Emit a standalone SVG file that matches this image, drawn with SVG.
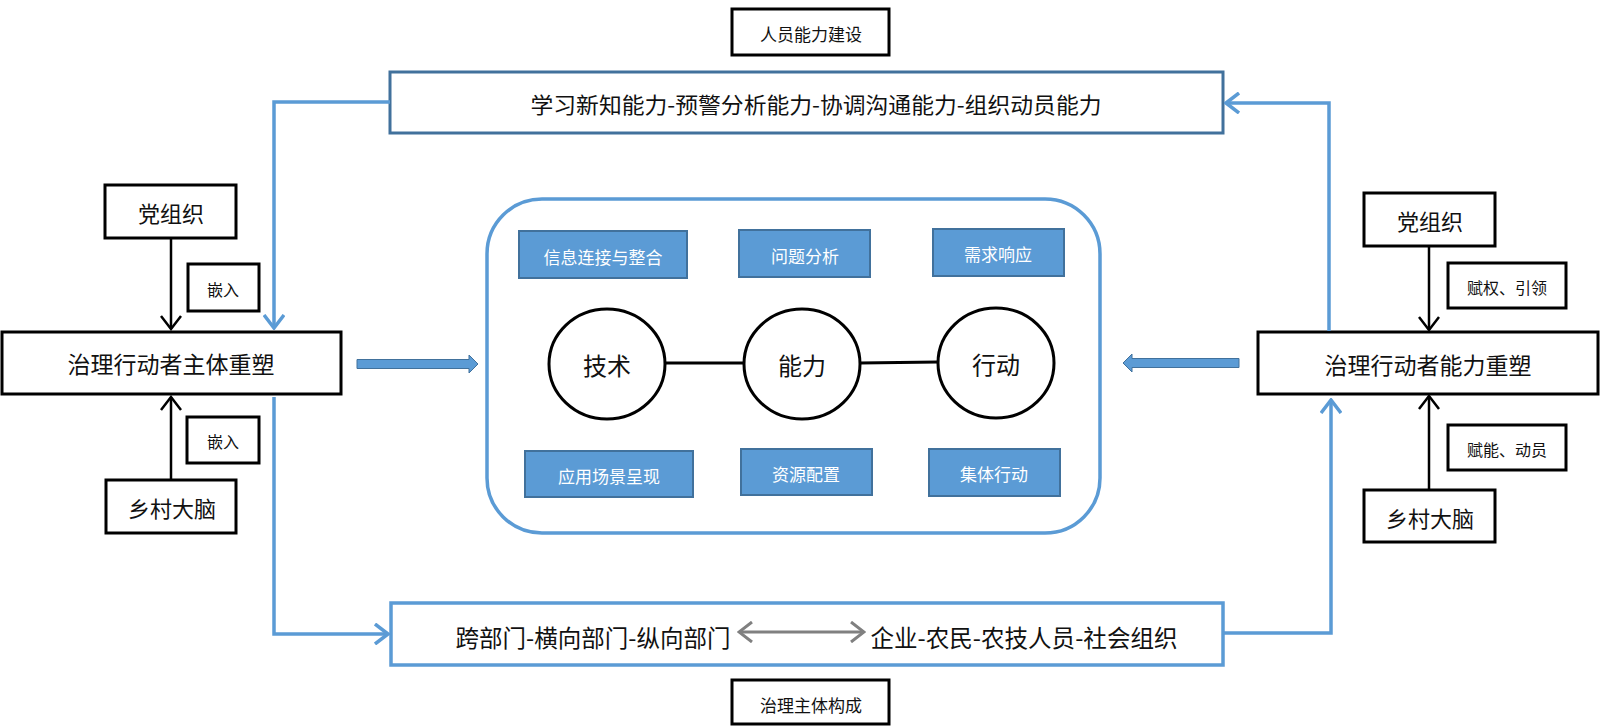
<svg xmlns="http://www.w3.org/2000/svg" width="1600" height="727" viewBox="0 0 1600 727">
<style>
text{font-family:"Noto Sans CJK SC","Noto Sans CJK TC",sans-serif;fill:#111;text-anchor:middle;dominant-baseline:central}
.bx{fill:#fff;stroke:#000;stroke-width:3}
.blue{fill:#5B9BD5;stroke:#41719C;stroke-width:2}
.wt{fill:#fff;font-size:17px}
.circ{fill:#fff;stroke:#000;stroke-width:3}
.bl{fill:none;stroke:#5B9BD5;stroke-width:3.5}
.bk{fill:none;stroke:#000;stroke-width:2.5}
</style>
<defs>
<marker id="ab" markerUnits="userSpaceOnUse" viewBox="0 0 16 22" markerWidth="16" markerHeight="22" refX="14" refY="11" orient="auto"><path d="M1,1 L14,11 L1,21" fill="none" stroke="#5B9BD5" stroke-width="3.5"/></marker>
<marker id="ak" markerUnits="userSpaceOnUse" viewBox="0 0 16 22" markerWidth="16" markerHeight="22" refX="14" refY="11" orient="auto"><path d="M1,1 L14,11 L1,21" fill="none" stroke="#000" stroke-width="2.5"/></marker>
<marker id="ag" markerUnits="userSpaceOnUse" viewBox="0 0 16 22" markerWidth="16" markerHeight="22" refX="14" refY="11" orient="auto-start-reverse"><path d="M1,1 L14,11 L1,21" fill="none" stroke="#808080" stroke-width="3"/></marker>
</defs>

<g id="label-top"><rect class="bx" x="732" y="9" width="157" height="46" stroke-width="2.5"/><text x="811" y="33" font-size="17">人员能力建设</text></g>
<g id="box-top"><rect x="390" y="72" width="833" height="61" fill="#fff" stroke="#41719C" stroke-width="3"/><text x="816" y="103" font-size="22" textLength="571" lengthAdjust="spacingAndGlyphs">学习新知能力-预警分析能力-协调沟通能力-组织动员能力</text></g>
<g id="box-bottom"><rect x="391" y="603" width="832" height="62" fill="#fff" stroke="#5B9BD5" stroke-width="3.5"/><text x="593" y="636" font-size="24" textLength="275" lengthAdjust="spacingAndGlyphs">跨部门-横向部门-纵向部门</text><text x="1024" y="636" font-size="24" textLength="307" lengthAdjust="spacingAndGlyphs">企业-农民-农技人员-社会组织</text></g>
<g id="label-bottom"><rect class="bx" x="732" y="680" width="157" height="44" stroke-width="2.5"/><text x="811" y="704" font-size="17">治理主体构成</text></g>

<g id="left-party"><rect class="bx" x="105" y="185" width="131" height="53"/><text x="171" y="212" font-size="22">党组织</text></g>
<g id="left-embed1"><rect class="bx" x="188" y="264" width="71" height="47"/><text x="223" y="289" font-size="16">嵌入</text></g>
<g id="left-main"><rect class="bx" x="2" y="332" width="339" height="62"/><text x="171" y="363" font-size="23">治理行动者主体重塑</text></g>
<g id="left-embed2"><rect class="bx" x="187" y="417" width="72" height="46"/><text x="223" y="441" font-size="16">嵌入</text></g>
<g id="left-brain"><rect class="bx" x="106" y="480" width="130" height="53"/><text x="172" y="507" font-size="22">乡村大脑</text></g>

<g id="right-party"><rect class="bx" x="1364" y="193" width="131" height="53"/><text x="1430" y="220" font-size="22">党组织</text></g>
<g id="right-empower1"><rect class="bx" x="1448" y="263" width="118" height="45"/><text x="1507" y="287" font-size="16">赋权、引领</text></g>
<g id="right-main"><rect class="bx" x="1258" y="332" width="340" height="62"/><text x="1428" y="364" font-size="23">治理行动者能力重塑</text></g>
<g id="right-empower2"><rect class="bx" x="1448" y="425" width="118" height="45"/><text x="1507" y="449" font-size="16">赋能、动员</text></g>
<g id="right-brain"><rect class="bx" x="1364" y="490" width="131" height="52"/><text x="1430" y="517" font-size="22">乡村大脑</text></g>

<g id="center">
<rect x="487" y="199" width="613" height="334" rx="55" ry="55" fill="#fff" stroke="#5B9BD5" stroke-width="3.5"/>
<g id="b1"><rect class="blue" x="519" y="231" width="168" height="47"/><text class="wt" x="603" y="256">信息连接与整合</text></g>
<g id="b2"><rect class="blue" x="739" y="230" width="131" height="47"/><text class="wt" x="805" y="255">问题分析</text></g>
<g id="b3"><rect class="blue" x="933" y="229" width="131" height="47"/><text class="wt" x="998" y="253">需求响应</text></g>
<g id="b4"><rect class="blue" x="525" y="451" width="168" height="46"/><text class="wt" x="609" y="475">应用场景呈现</text></g>
<g id="b5"><rect class="blue" x="741" y="449" width="131" height="46"/><text class="wt" x="806" y="473">资源配置</text></g>
<g id="b6"><rect class="blue" x="929" y="449" width="131" height="47"/><text class="wt" x="994" y="473">集体行动</text></g>
<line x1="665" y1="363" x2="744" y2="363" stroke="#000" stroke-width="3"/>
<line x1="860" y1="363" x2="938" y2="362" stroke="#000" stroke-width="3"/>
<g id="c1"><ellipse class="circ" cx="607" cy="364" rx="58" ry="55"/><text x="607" y="364" font-size="24">技术</text></g>
<g id="c2"><ellipse class="circ" cx="802" cy="364" rx="58" ry="55"/><text x="802" y="364" font-size="24">能力</text></g>
<g id="c3"><ellipse class="circ" cx="996" cy="363" rx="58" ry="55"/><text x="996" y="363" font-size="24">行动</text></g>
</g>

<g id="connectors">
<polyline class="bl" points="390,102 274,102 274,328" marker-end="url(#ab)"/>
<polyline class="bl" points="274,397 274,634 388,634" marker-end="url(#ab)"/>
<polyline class="bl" points="1223,633 1331,633 1331,400" marker-end="url(#ab)"/>
<polyline class="bl" points="1329,331 1329,103 1226,103" marker-end="url(#ab)"/>
<line class="bk" x1="171" y1="238" x2="171" y2="329" marker-end="url(#ak)"/>
<line class="bk" x1="171" y1="480" x2="171" y2="397" marker-end="url(#ak)"/>
<line class="bk" x1="1429" y1="246" x2="1429" y2="330" marker-end="url(#ak)"/>
<line class="bk" x1="1429" y1="490" x2="1429" y2="396" marker-end="url(#ak)"/>
<line x1="739" y1="632" x2="864" y2="632" stroke="#808080" stroke-width="3" marker-start="url(#ag)" marker-end="url(#ag)"/>
<polygon points="357,359.5 469,359.5 469,355 478,364 469,373 469,368.5 357,368.5" fill="#5B9BD5" stroke="#41719C" stroke-width="1"/>
<polygon points="1239,358.5 1132,358.5 1132,354 1123,363 1132,372 1132,367.5 1239,367.5" fill="#5B9BD5" stroke="#41719C" stroke-width="1"/>
</g>
</svg>
